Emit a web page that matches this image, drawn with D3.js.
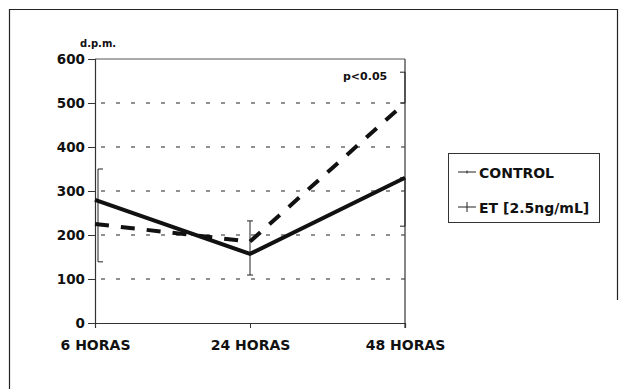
<!DOCTYPE html>
<html>
<head>
<meta charset="utf-8">
<script src="https://cdn.jsdelivr.net/npm/d3@7"></script>
<style>
  html, body { margin: 0; padding: 0; background: #fff; }
  svg { display: block; }
  text { font-family: "DejaVu Sans", sans-serif; font-weight: bold; fill: #111; }
</style>
</head>
<body>
<svg id="chart" width="620" height="389"></svg>
<script>
// Time points and measured d.p.m. per group
const categories = ["6 HORAS", "24 HORAS", "48 HORAS"];
const controlValues = [280, 157, 330];
const etValues = [225, 185, 500];
const yTicks = [0, 100, 200, 300, 400, 500, 600];
// Error bar spans (category index, low, high)
const errCat = [0, 1, 2, 2];
const errLow = [139, 109, 220, 500];
const errHigh = [350, 232, 330, 570];
const legendLabels = ["CONTROL", "ET [2.5ng/mL]"];

const svg = d3.select("#chart");

const x = d3.scalePoint().domain(categories).range([95, 405]).padding(0);
const y = d3.scaleLinear().domain([0, 600]).range([323, 59]);

// Outer frame
svg.append("path")
  .attr("d", "M9.5,389 L9.5,9.5 L617.5,9.5 L617.5,300")
  .attr("fill", "none").attr("stroke", "#222").attr("stroke-width", 1.2);

// Dashed horizontal gridlines
svg.append("g").selectAll("line")
  .data(yTicks.filter(d => d > 0 && d < 600))
  .join("line")
  .attr("x1", 101).attr("x2", 405)
  .attr("y1", d => y(d)).attr("y2", d => y(d))
  .attr("stroke", "#222").attr("stroke-width", 1)
  .attr("stroke-dasharray", "4,11");

// Top border of plot area
svg.append("line")
  .attr("x1", x(categories[0])).attr("x2", x(categories[2]))
  .attr("y1", y(600)).attr("y2", y(600))
  .attr("stroke", "#555").attr("stroke-width", 1);

// Right border of plot area
svg.append("line")
  .attr("x1", x(categories[2])).attr("x2", x(categories[2]))
  .attr("y1", y(600)).attr("y2", y(0) + 5)
  .attr("stroke", "#444").attr("stroke-width", 1.3);

// Y axis
const yAxis = d3.axisLeft(y).tickValues(yTicks).tickSize(7).tickPadding(3).tickFormat(d3.format("d"));
const gy = svg.append("g").attr("transform", `translate(${x(categories[0])},0)`).call(yAxis);
gy.select(".domain").attr("stroke", "#333").attr("stroke-width", 1.2);
gy.selectAll(".tick line").attr("stroke", "#333");
gy.selectAll("text").style("font-size", "13.5px").attr("fill", "#111");

// X axis
const xAxis = d3.axisBottom(x).tickSize(5).tickPadding(12);
const gx = svg.append("g").attr("transform", `translate(0,${y(0)})`).call(xAxis);
gx.select(".domain").attr("stroke", "#333").attr("stroke-width", 1.2);
gx.selectAll(".tick line").attr("stroke", "#333");
gx.selectAll("text").style("font-size", "14px").attr("fill", "#111");

// Unit label
svg.append("text").attr("x", 80).attr("y", 47).style("font-size", "10px").text("d.p.m.");

// Error bars
const errData = errCat.map((c, i) => ({ c, lo: errLow[i], hi: errHigh[i] }));
const eg = svg.append("g").attr("stroke", "#222").attr("stroke-width", 1).attr("fill", "none");
errData.forEach(e => {
  let cx = x(categories[e.c]);
  let c0, c1;
  if (e.c === 0) { cx += 3; c0 = cx; c1 = cx + 5; }
  else if (e.c === categories.length - 1) { c0 = cx - 5; c1 = cx; }
  else { c0 = cx - 3; c1 = cx + 3; }
  eg.append("line").attr("x1", cx).attr("x2", cx).attr("y1", y(e.lo)).attr("y2", y(e.hi));
  eg.append("line").attr("x1", c0).attr("x2", c1).attr("y1", y(e.lo)).attr("y2", y(e.lo));
  eg.append("line").attr("x1", c0).attr("x2", c1).attr("y1", y(e.hi)).attr("y2", y(e.hi));
});

// Series lines
const line = d3.line().x((d, i) => x(categories[i])).y(d => y(d));
svg.append("path").datum(etValues).attr("d", line)
  .attr("fill", "none").attr("stroke", "#111").attr("stroke-width", 4)
  .attr("stroke-dasharray", "14,12");
svg.append("path").datum(controlValues).attr("d", line)
  .attr("fill", "none").attr("stroke", "#111").attr("stroke-width", 4)
  .attr("stroke-linejoin", "miter");

// Significance note
svg.append("text").attr("x", 343).attr("y", 80).style("font-size", "11px").text("p<0.05");

// Legend
const lg = svg.append("g");
lg.append("rect").attr("x", 448.5).attr("y", 153.5).attr("width", 151).attr("height", 69)
  .attr("fill", "#fff").attr("stroke", "#333").attr("stroke-width", 1);
const ly = [172, 207];
lg.append("line").attr("x1", 458).attr("x2", 476).attr("y1", ly[0]).attr("y2", ly[0]).attr("stroke", "#222");
lg.append("line").attr("x1", 467).attr("x2", 467).attr("y1", ly[0] - 1.5).attr("y2", ly[0] + 1.5).attr("stroke", "#222");
lg.append("line").attr("x1", 458).attr("x2", 476).attr("y1", ly[1]).attr("y2", ly[1]).attr("stroke", "#222");
lg.append("line").attr("x1", 467).attr("x2", 467).attr("y1", ly[1] - 5).attr("y2", ly[1] + 5).attr("stroke", "#222");
lg.selectAll("text.lab").data(legendLabels).join("text").attr("class", "lab")
  .attr("x", 479).attr("y", (d, i) => ly[i] + 5.5)
  .style("font-size", "14px").text(d => d);
</script>
</body>
</html>
